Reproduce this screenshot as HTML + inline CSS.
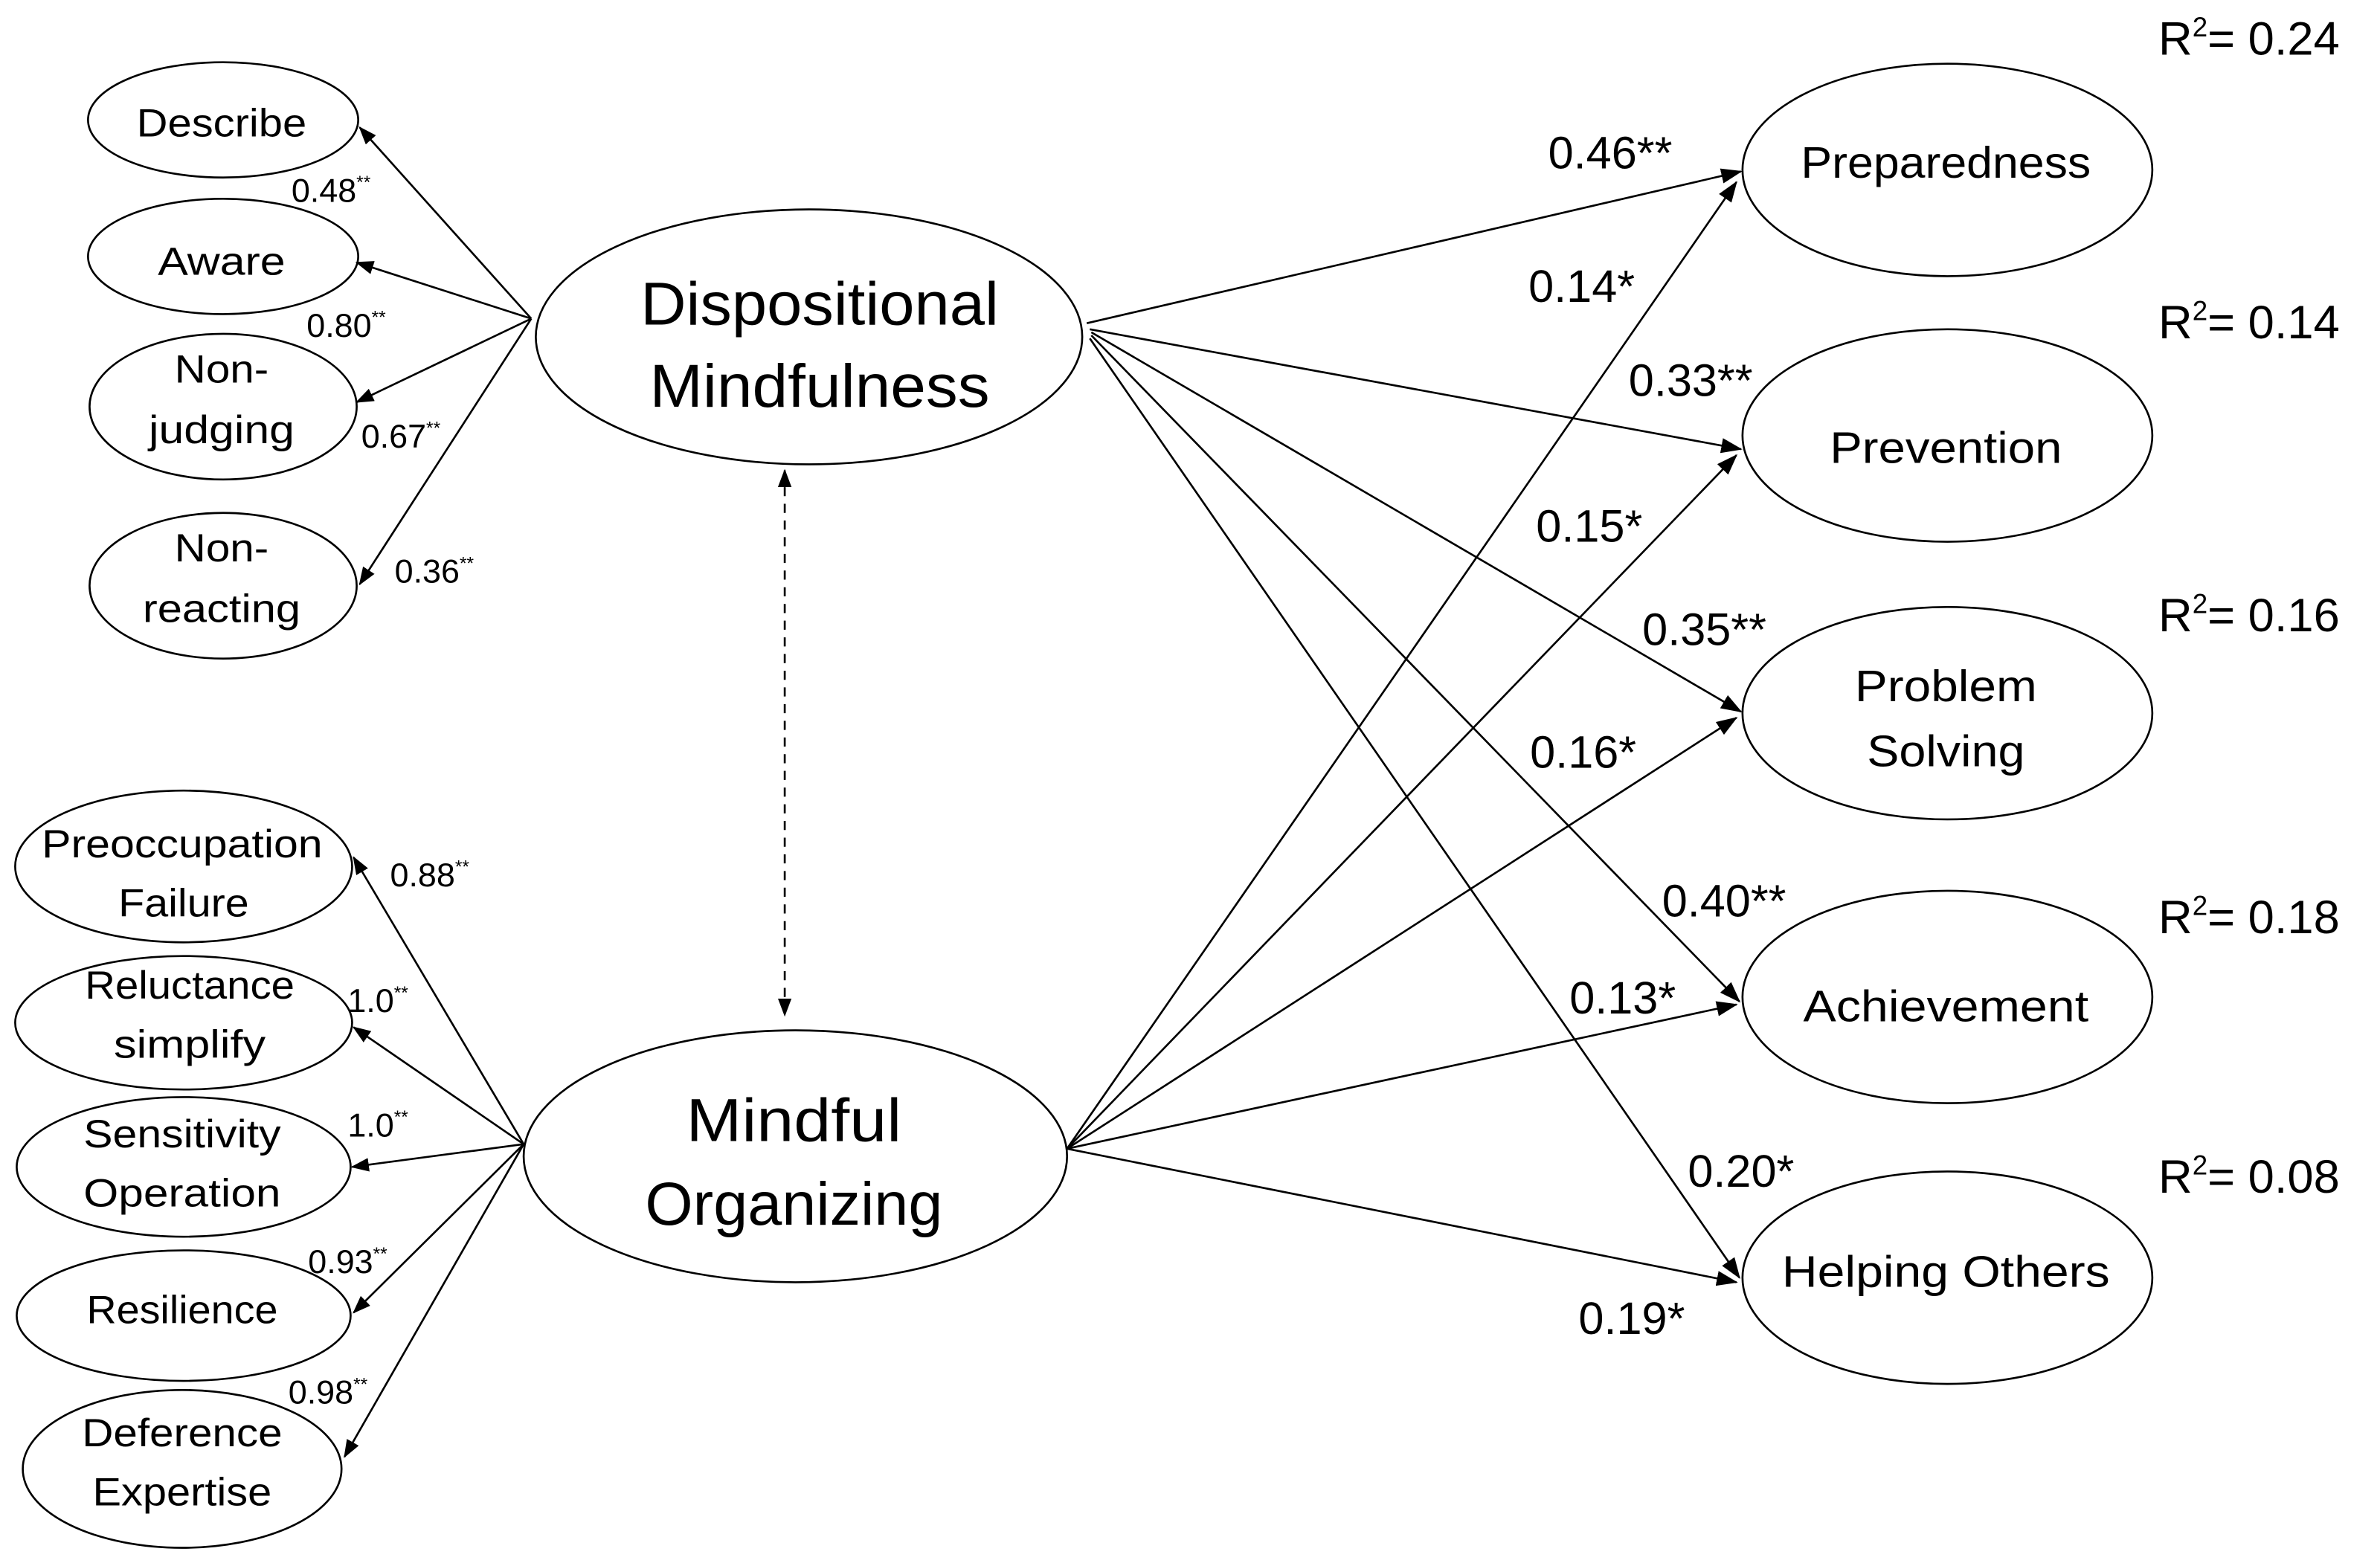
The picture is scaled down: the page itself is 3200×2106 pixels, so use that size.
<!DOCTYPE html>
<html><head><meta charset="utf-8"><style>
html,body{margin:0;padding:0;background:#fff;}
svg{display:block;}
text{font-family:"Liberation Sans",sans-serif;fill:#000;}
</style></head><body>
<svg width="3200" height="2106" viewBox="0 0 1568 1032" preserveAspectRatio="none" xmlns="http://www.w3.org/2000/svg">
<defs>
<marker id="a" markerWidth="14" markerHeight="10" refX="13" refY="5" orient="auto" markerUnits="userSpaceOnUse"><path d="M0,0 L14,5 L0,10 z" fill="#000"/></marker>
<marker id="b" markerWidth="12" markerHeight="9" refX="11" refY="4.5" orient="auto-start-reverse" markerUnits="userSpaceOnUse"><path d="M0,0 L12,4.5 L0,9 z" fill="#000"/></marker>
</defs>
<g fill="none" stroke="#000" stroke-width="1.3">
<ellipse cx="147" cy="79" rx="89" ry="38"/>
<ellipse cx="147" cy="169" rx="89" ry="38"/>
<ellipse cx="147" cy="268" rx="88" ry="48"/>
<ellipse cx="147" cy="386" rx="88" ry="48"/>
<ellipse cx="533" cy="222" rx="180" ry="84"/>
<ellipse cx="524" cy="762" rx="179" ry="83"/>
<ellipse cx="121" cy="571" rx="111" ry="50"/>
<ellipse cx="121" cy="674" rx="111" ry="44"/>
<ellipse cx="121" cy="769" rx="110" ry="46"/>
<ellipse cx="121" cy="867" rx="110" ry="43"/>
<ellipse cx="120" cy="968" rx="105" ry="52"/>
<ellipse cx="1283" cy="112" rx="135" ry="70"/>
<ellipse cx="1283" cy="287" rx="135" ry="70"/>
<ellipse cx="1283" cy="470" rx="135" ry="70"/>
<ellipse cx="1283" cy="657" rx="135" ry="70"/>
<ellipse cx="1283" cy="842" rx="135" ry="70"/>
</g>
<g stroke="#000" stroke-width="1.3" fill="none">
<line x1="350" y1="210" x2="237" y2="84" marker-end="url(#b)"/>
<line x1="350" y1="210" x2="235" y2="173" marker-end="url(#b)"/>
<line x1="350" y1="210" x2="235" y2="265" marker-end="url(#b)"/>
<line x1="350" y1="210" x2="237" y2="385" marker-end="url(#b)"/>
<line x1="345" y1="754" x2="233" y2="565" marker-end="url(#b)"/>
<line x1="345" y1="754" x2="233" y2="677" marker-end="url(#b)"/>
<line x1="345" y1="754" x2="232" y2="769" marker-end="url(#b)"/>
<line x1="345" y1="754" x2="233" y2="865" marker-end="url(#b)"/>
<line x1="345" y1="754" x2="227" y2="960" marker-end="url(#b)"/>
<line x1="517" y1="310" x2="517" y2="669" stroke-dasharray="6,5" marker-start="url(#b)" marker-end="url(#b)"/>
<line x1="716" y1="213" x2="1147" y2="113" marker-end="url(#a)"/>
<line x1="718" y1="217" x2="1147" y2="296" marker-end="url(#a)"/>
<line x1="719" y1="219" x2="1147" y2="469" marker-end="url(#a)"/>
<line x1="719" y1="221" x2="1146" y2="660" marker-end="url(#a)"/>
<line x1="718" y1="223" x2="1146" y2="842" marker-end="url(#a)"/>
<line x1="703" y1="757" x2="1144" y2="120" marker-end="url(#a)"/>
<line x1="703" y1="757" x2="1144" y2="300" marker-end="url(#a)"/>
<line x1="703" y1="757" x2="1144" y2="473" marker-end="url(#a)"/>
<line x1="703" y1="757" x2="1144" y2="662" marker-end="url(#a)"/>
<line x1="703" y1="757" x2="1144" y2="845" marker-end="url(#a)"/>
</g>
<g font-size="26" text-anchor="middle">
<text x="146" y="90" textLength="112" lengthAdjust="spacingAndGlyphs">Describe</text>
<text x="146" y="181" textLength="84" lengthAdjust="spacingAndGlyphs">Aware</text>
<text x="146" y="252" textLength="62" lengthAdjust="spacingAndGlyphs">Non-</text>
<text x="146" y="292" textLength="96" lengthAdjust="spacingAndGlyphs">judging</text>
<text x="146" y="370" textLength="62" lengthAdjust="spacingAndGlyphs">Non-</text>
<text x="146" y="410" textLength="104" lengthAdjust="spacingAndGlyphs">reacting</text>
<text x="120" y="565" textLength="185" lengthAdjust="spacingAndGlyphs">Preoccupation</text>
<text x="121" y="604" textLength="86" lengthAdjust="spacingAndGlyphs">Failure</text>
<text x="125" y="658" textLength="138" lengthAdjust="spacingAndGlyphs">Reluctance</text>
<text x="125" y="697" textLength="100" lengthAdjust="spacingAndGlyphs">simplify</text>
<text x="120" y="756" textLength="130" lengthAdjust="spacingAndGlyphs">Sensitivity</text>
<text x="120" y="795" textLength="130" lengthAdjust="spacingAndGlyphs">Operation</text>
<text x="120" y="872" textLength="126" lengthAdjust="spacingAndGlyphs">Resilience</text>
<text x="120" y="953" textLength="132" lengthAdjust="spacingAndGlyphs">Deference</text>
<text x="120" y="992" textLength="118" lengthAdjust="spacingAndGlyphs">Expertise</text>
</g>
<g font-size="40" text-anchor="middle">
<text x="540" y="214" textLength="236" lengthAdjust="spacingAndGlyphs">Dispositional</text>
<text x="540" y="268" textLength="224" lengthAdjust="spacingAndGlyphs">Mindfulness</text>
<text x="523" y="752" textLength="142" lengthAdjust="spacingAndGlyphs">Mindful</text>
<text x="523" y="807" textLength="196" lengthAdjust="spacingAndGlyphs">Organizing</text>
</g>
<g font-size="29" text-anchor="middle">
<text x="1282" y="117" textLength="191" lengthAdjust="spacingAndGlyphs">Preparedness</text>
<text x="1282" y="305" textLength="153" lengthAdjust="spacingAndGlyphs">Prevention</text>
<text x="1282" y="462" textLength="120" lengthAdjust="spacingAndGlyphs">Problem</text>
<text x="1282" y="505" textLength="104" lengthAdjust="spacingAndGlyphs">Solving</text>
<text x="1282" y="673" textLength="188" lengthAdjust="spacingAndGlyphs">Achievement</text>
<text x="1282" y="848" textLength="216" lengthAdjust="spacingAndGlyphs">Helping Others</text>
</g>
<g font-size="22">
<text x="192" y="133">0.48<tspan font-size="12" dy="-9">**</tspan></text>
<text x="202" y="222">0.80<tspan font-size="12" dy="-9">**</tspan></text>
<text x="238" y="295">0.67<tspan font-size="12" dy="-9">**</tspan></text>
<text x="260" y="384">0.36<tspan font-size="12" dy="-9">**</tspan></text>
<text x="257" y="584">0.88<tspan font-size="12" dy="-9">**</tspan></text>
<text x="229" y="667">1.0<tspan font-size="12" dy="-9">**</tspan></text>
<text x="229" y="749">1.0<tspan font-size="12" dy="-9">**</tspan></text>
<text x="203" y="839">0.93<tspan font-size="12" dy="-9">**</tspan></text>
<text x="190" y="925">0.98<tspan font-size="12" dy="-9">**</tspan></text>
</g>
<g font-size="30">
<text x="1020" y="111">0.46**</text>
<text x="1007" y="199">0.14*</text>
<text x="1073" y="261">0.33**</text>
<text x="1012" y="357">0.15*</text>
<text x="1082" y="425">0.35**</text>
<text x="1008" y="506">0.16*</text>
<text x="1095" y="604">0.40**</text>
<text x="1034" y="668">0.13*</text>
<text x="1112" y="782">0.20*</text>
<text x="1040" y="879">0.19*</text>
</g>
<g font-size="31">
<text x="1422" y="36">R<tspan font-size="18" dy="-12">2</tspan><tspan dy="12">= 0.24</tspan></text>
<text x="1422" y="223">R<tspan font-size="18" dy="-12">2</tspan><tspan dy="12">= 0.14</tspan></text>
<text x="1422" y="416">R<tspan font-size="18" dy="-12">2</tspan><tspan dy="12">= 0.16</tspan></text>
<text x="1422" y="615">R<tspan font-size="18" dy="-12">2</tspan><tspan dy="12">= 0.18</tspan></text>
<text x="1422" y="786">R<tspan font-size="18" dy="-12">2</tspan><tspan dy="12">= 0.08</tspan></text>
</g>
</svg>
</body></html>
